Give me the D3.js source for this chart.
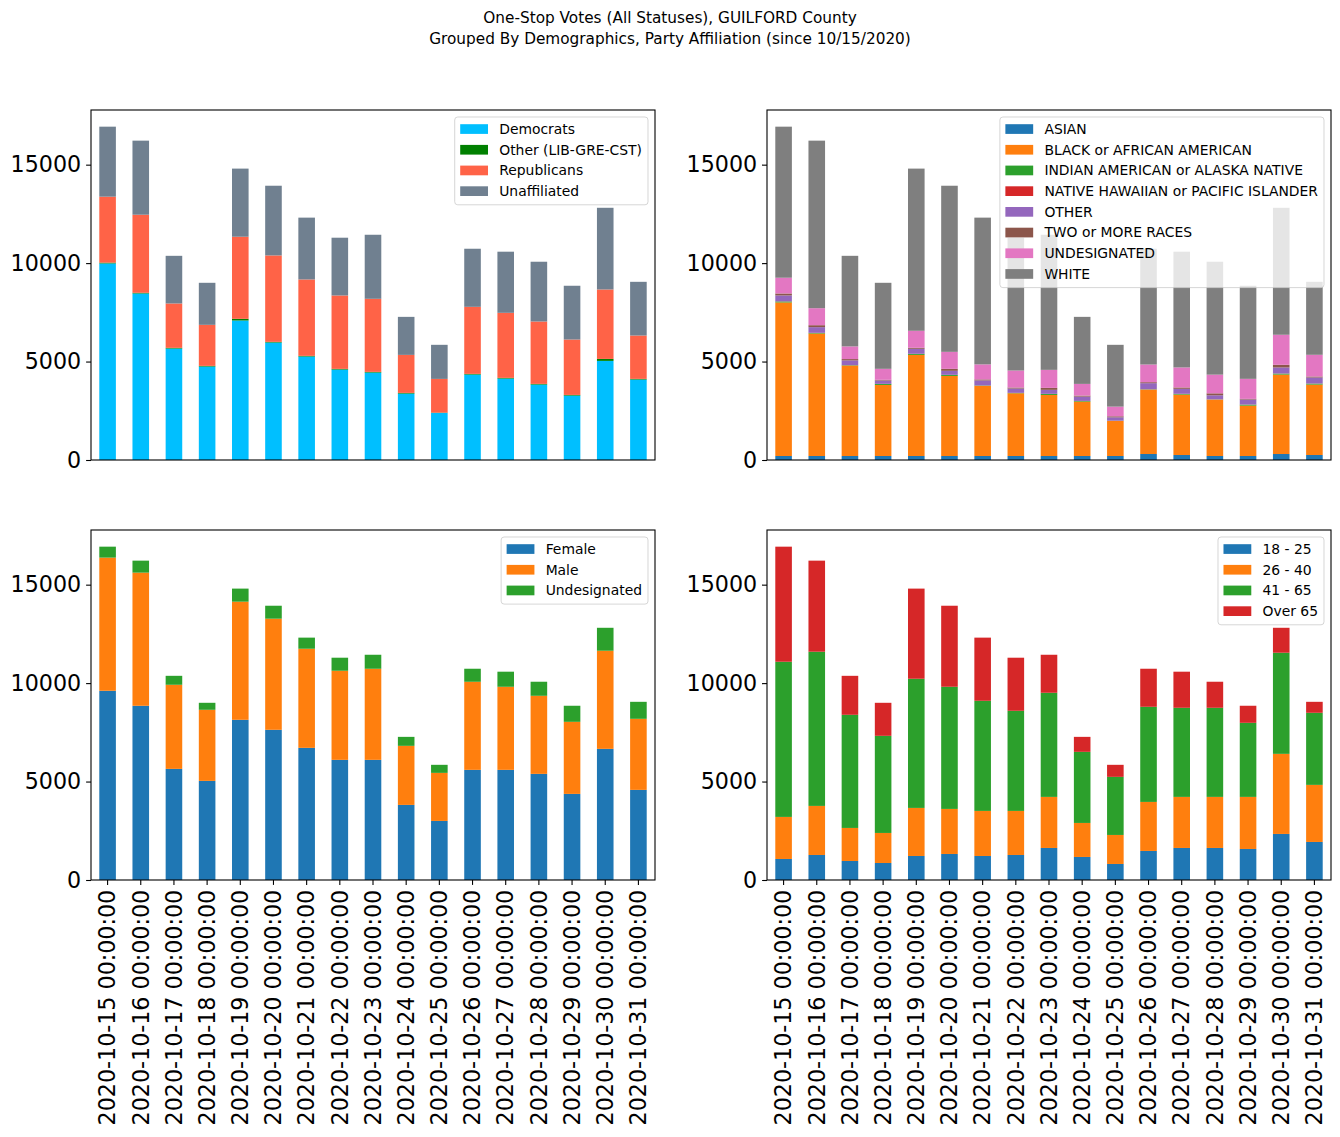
<!DOCTYPE html>
<html><head><meta charset="utf-8">
<script src="https://cdn.jsdelivr.net/npm/d3@7"></script>
<style>body{margin:0;background:#fff;font-family:"DejaVu Sans",sans-serif;}</style>
</head><body>
<svg id="c" width="1340" height="1137"></svg>
<script>
const dates = ["2020-10-15 00:00:00","2020-10-16 00:00:00","2020-10-17 00:00:00","2020-10-18 00:00:00","2020-10-19 00:00:00","2020-10-20 00:00:00","2020-10-21 00:00:00","2020-10-22 00:00:00","2020-10-23 00:00:00","2020-10-24 00:00:00","2020-10-25 00:00:00","2020-10-26 00:00:00","2020-10-27 00:00:00","2020-10-28 00:00:00","2020-10-29 00:00:00","2020-10-30 00:00:00","2020-10-31 00:00:00"];
const yTicks = [0, 5000, 10000, 15000];

// Party affiliation
const partyNames = ["Democrats","Other (LIB-GRE-CST)","Republicans","Unaffiliated"];
const democrats    = [9984,8458,5661,4746,7085,5966,5255,4593,4441,3373,2390,4339,4136,3831,3271,5034,4085];
const otherParty   = [40,35,35,35,85,35,35,35,35,35,15,35,35,35,35,100,35];
const republicans  = [3350,3965,2254,2084,4170,4389,3880,3728,3711,1931,1714,3406,3304,3168,2813,3527,2202];
const unaffiliated = [3556,3762,2420,2135,3460,3540,3140,2934,3253,1931,1731,2950,3105,3036,2731,4149,2728];

// Race
const raceNames = ["ASIAN","BLACK or AFRICAN AMERICAN","INDIAN AMERICAN or ALASKA NATIVE","NATIVE HAWAIIAN or PACIFIC ISLANDER","OTHER","TWO or MORE RACES","UNDESIGNATED","WHITE"];
const asian   = [203,203,203,203,203,203,203,203,203,203,203,305,254,203,203,305,254];
const black   = [7800,6221,4593,3610,5136,4068,3560,3187,3102,2763,1780,3271,3068,2865,2559,4034,3576];
const indian  = [50,30,20,50,50,50,20,15,50,30,10,15,35,10,50,50,50];
const hawaiian= [5,5,5,5,5,5,5,5,5,5,5,5,5,5,5,5,5];
const otherRace=[300,288,237,170,254,203,254,220,203,220,170,305,254,203,254,305,305];
const twoMore = [100,100,68,34,51,100,51,51,100,51,51,51,68,100,34,136,51];
const undesRace=[800,864,644,559,864,864,763,864,915,593,492,898,1017,949,1017,1526,1102];
const white   = [7672,8509,4600,4369,8237,8437,7454,6745,6862,3405,3139,5880,5879,5735,4728,6449,3707];

// Gender
const genderNames = ["Female","Male","Undesignated"];
const female = [9611,8848,5644,5034,8136,7628,6712,6102,6102,3814,3000,5594,5594,5390,4373,6661,4577];
const male   = [6763,6763,4272,3611,6000,5644,5034,4526,4627,3000,2441,4474,4220,3966,3661,4984,3610];
const undesGender = [556,609,454,355,664,658,564,662,711,456,409,662,766,714,816,1165,863];

// Age
const ageNames = ["18 - 25","26 - 40","41 - 65","Over 65"];
const age18 = [1068,1271,966,864,1220,1322,1220,1271,1627,1170,814,1475,1627,1627,1576,2339,1932];
const age26 = [2136,2492,1678,1526,2441,2288,2289,2238,2594,1728,1474,2491,2594,2594,2645,4068,2899];
const age41 = [7881,7831,5746,4932,6560,6204,5593,5085,5288,3611,2950,4831,4525,4525,3762,5136,3661];
const age65 = [5845,4626,1980,1678,4579,4116,3208,2696,1931,761,612,1933,1834,1324,867,1267,558];

const tab10 = ["#1f77b4","#ff7f0e","#2ca02c","#d62728","#9467bd","#8c564b","#e377c2","#7f7f7f"];
const panels = [
  {names: partyNames, series:[democrats,otherParty,republicans,unaffiliated], colors:["#00bfff","#008000","#ff6347","#708090"], x0:91, y0:110, xt:false},
  {names: raceNames, series:[asian,black,indian,hawaiian,otherRace,twoMore,undesRace,white], colors:tab10, x0:767, y0:110, xt:false},
  {names: genderNames, series:[female,male,undesGender], colors:tab10.slice(0,3), x0:91, y0:530, xt:true},
  {names: ageNames, series:[age18,age26,age41,age65], colors:tab10.slice(0,4), x0:767, y0:530, xt:true}
];
const W = 564, H = 350;
const TICK_FS = "22.2px";
const svg = d3.select("#c");

svg.append("text").attr("x",670).attr("y",23).attr("text-anchor","middle").attr("font-size","15.3px").text("One-Stop Votes (All Statuses), GUILFORD County");
svg.append("text").attr("x",670).attr("y",44).attr("text-anchor","middle").attr("font-size","15.3px").text("Grouped By Demographics, Party Affiliation (since 10/15/2020)");

panels.forEach(p => {
  const g = svg.append("g").attr("transform",`translate(${p.x0},${p.y0})`);
  const rows = dates.map((d,i) => { const r = {date:d}; p.names.forEach((n,k)=> r[n]=p.series[k][i]); return r; });
  const stack = d3.stack().keys(p.names)(rows);
  const maxTot = d3.max(stack[stack.length-1], d => d[1]);
  const x = d3.scaleBand().domain(dates).range([0,W]).paddingInner(0.5).paddingOuter(0.25);
  const y = d3.scaleLinear().domain([0, maxTot*1.05]).range([H,0]);
  stack.forEach((s,k) => {
    g.append("g").selectAll("rect").data(s).join("rect")
      .attr("x", d => x(d.data.date)).attr("width", x.bandwidth())
      .attr("y", d => y(d[1])).attr("height", d => y(d[0]) - y(d[1]))
      .attr("fill", p.colors[k]);
  });
  // y axis
  const ya = g.append("g").call(d3.axisLeft(y).tickValues(yTicks).tickFormat(d3.format("d")).tickSize(4.9).tickPadding(4.9));
  ya.select(".domain").remove();
  ya.selectAll("text").attr("font-size",TICK_FS).attr("font-family","DejaVu Sans").attr("fill","#000");
  ya.selectAll("line").attr("stroke","#000").attr("stroke-width",1.1);
  if (p.xt) {
    const xa = g.append("g").attr("transform",`translate(0,${H})`).call(d3.axisBottom(x).tickSize(4.9).tickPadding(0));
    xa.select(".domain").remove();
    xa.selectAll("line").attr("stroke","#000").attr("stroke-width",1.1);
    xa.selectAll("text").attr("font-size",TICK_FS).attr("font-family","DejaVu Sans").attr("fill","#000")
      .attr("transform","rotate(-90)").attr("text-anchor","end").attr("x",-9.8).attr("y",0).attr("dy","0.35em");
  }
  g.append("rect").attr("x",0).attr("y",0).attr("width",W).attr("height",H).attr("fill","none").attr("stroke","#000").attr("stroke-width",1.1);

  // legend
  const lg = g.append("g");
  const bg = lg.append("rect").attr("rx",3).attr("ry",3).attr("fill","#fff").attr("fill-opacity",0.8).attr("stroke","#cccccc").attr("stroke-opacity",0.8).attr("stroke-width",1);
  let maxW = 0;
  p.names.forEach((n,i) => {
    const cy = 12 + i*20.7;
    lg.append("rect").attr("x",5.5).attr("y",cy-4.8).attr("width",27.8).attr("height",9.7).attr("fill",p.colors[i]);
    const t = lg.append("text").attr("x",44.5).attr("y",cy).attr("dy","0.35em").attr("font-size","13.9px").attr("font-family","DejaVu Sans").text(n);
    maxW = Math.max(maxW, t.node().getComputedTextLength());
  });
  const bw = 44.5 + maxW + 6, bh = p.names.length*20.7 + 5;
  bg.attr("x",0).attr("y",0).attr("width",bw).attr("height",bh);
  lg.attr("transform",`translate(${W-7-bw},7)`);
});
</script>
</body></html>
